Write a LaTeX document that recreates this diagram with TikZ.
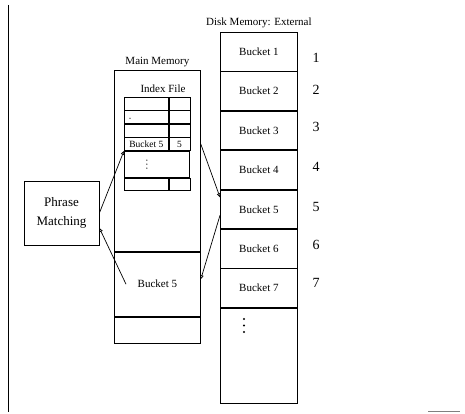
\documentclass[tikz,border=0pt]{standalone}
\usepackage{fontspec}
\setmainfont{Liberation Serif}
\usepackage{tikz}
\usetikzlibrary{arrows.meta,positioning}

\begin{document}
\begin{tikzpicture}[
    x=1pt, y=-1pt,
    diskcell/.style={draw, line width=0.8pt, minimum width=77pt, minimum height=38.6pt,
                     inner sep=0pt, font=\fontsize{11}{13}\selectfont},
    memcell/.style={draw, line width=0.8pt, minimum width=86pt, inner sep=0pt,
                    font=\fontsize{11}{13}\selectfont},
    ixcell/.style={draw, line width=0.7pt, minimum width=44pt, minimum height=12.75pt,
                   inner sep=0pt, font=\fontsize{9.5}{11}\selectfont},
    ixnum/.style={ixcell, minimum width=21pt},
    numlabel/.style={font=\fontsize{14}{16}\selectfont},
    caption/.style={inner sep=1pt, font=\fontsize{11}{13}\selectfont},
    flow/.style={draw, line width=0.7pt, -{Triangle[open, length=4pt, width=3.5pt]}}
  ]
  \useasboundingbox (0,0) rectangle (465,414);
  \draw[line width=1pt] (8,5) -- (8,412);
  \draw[gray, line width=0.8pt] (428,411) -- (460,411);

  % disk memory
  \node[diskcell, anchor=north west] (bk1) at (220,32) {Bucket 1};
  \node[diskcell, below=0pt of bk1] (bk2) {Bucket 2};
  \node[diskcell, below=0pt of bk2] (bk3) {Bucket 3};
  \node[diskcell, below=0pt of bk3] (bk4) {Bucket 4};
  \node[diskcell, below=0pt of bk4] (bk5) {Bucket 5};
  \node[diskcell, below=0pt of bk5] (bk6) {Bucket 6};
  \node[diskcell, below=0pt of bk6] (bk7) {Bucket 7};
  \node[diskcell, minimum height=95pt, below=0pt of bk7] (bkrest) {};
  \foreach \dy in {319,325.5,332}
    \fill (244,\dy) circle (1.1pt);
  \node[caption, above=3pt of bk1] (disklabel) {Disk Memory: External};

  \node[numlabel] (n1) at (316,58)  {1};
  \node[numlabel] (n2) at (316,90)  {2};
  \node[numlabel] (n3) at (316,127) {3};
  \node[numlabel] (n4) at (316,167) {4};
  \node[numlabel] (n5) at (316,207) {5};
  \node[numlabel] (n6) at (316,245) {6};
  \node[numlabel] (n7) at (316,283) {7};

  % main memory
  \node[memcell, minimum height=181pt, anchor=north west] (mmtop) at (114,70) {};
  \node[memcell, minimum height=64pt, below=0pt of mmtop] (mmbkt) {Bucket 5};
  \node[memcell, minimum height=26pt, below=0pt of mmbkt] (mmbot) {};
  \node[caption, above=2pt of mmtop] (mmlabel) {Main Memory};

  % index file
  \node[caption] (ixlabel) at (163,89) {Index File};
  \node[ixcell, anchor=north west] (ixa1) at (124,97) {};
  \node[ixnum, right=0pt of ixa1] (ixb1) {};
  \node[ixcell, below=0pt of ixa1] (ixa2) {};
  \node[ixnum, right=0pt of ixa2] (ixb2) {};
  \node[ixcell, below=0pt of ixa2] (ixa3) {};
  \node[ixnum, right=0pt of ixa3] (ixb3) {};
  \node[ixcell, below=0pt of ixa3] (ixa4) {Bucket 5};
  \node[ixnum, right=0pt of ixa4] (ixb4) {5};
  \node[ixcell, minimum width=65pt, minimum height=26pt, anchor=north west]
    (ixdots) at (ixa4.south west) {};
  \node[ixcell, anchor=north west] (ixa6) at (ixdots.south west) {};
  \node[ixnum, right=0pt of ixa6] (ixb6) {};
  \fill ([xshift=6pt,yshift=-1pt]ixa2.west) circle (0.6pt);
  \foreach \dy in {-4,0,4}
    \fill ([xshift=-10pt,yshift=\dy pt]ixdots.center) circle (0.7pt);

  % phrase matching
  \node[draw, line width=0.8pt, minimum width=75pt, minimum height=64pt, align=center,
        font=\fontsize{13}{19}\selectfont] (pm) at (61.5,213) {Phrase\\Matching};

  \draw[flow] (pm.east) -- (ixa4.south west);
  \draw[flow] (ixb4.east -| mmtop.east) -- ([yshift=12pt]bk5.west);
  \draw[flow] ([yshift=-6pt]bk5.west) -- ([yshift=5pt]mmbkt.east);
  \draw[flow] ([xshift=12pt]mmbkt.west) -- ([yshift=-15pt]pm.east);
\end{tikzpicture}
\end{document}
